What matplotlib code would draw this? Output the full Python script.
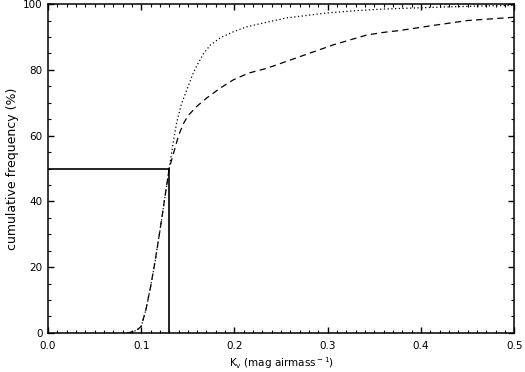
import numpy as np
import matplotlib
matplotlib.use('Agg')
from matplotlib import pyplot as plt
from matplotlib.ticker import MultipleLocator

# cumulative distributions of K_v
kv_low     = [0.085, 0.090, 0.095, 0.100, 0.105, 0.110, 0.115, 0.120, 0.125, 0.130]
cum_low    = [0.0,   0.3,   0.8,   2.0,   7.0,   14.0,  22.0,  31.0,  40.5,  50.0]

kv_dot     = [0.134, 0.138, 0.143, 0.149, 0.155, 0.160, 0.167, 0.174, 0.185, 0.199,
              0.212, 0.227, 0.256, 0.299, 0.330, 0.360, 0.413, 0.460, 0.500]
cum_dot    = [57.5,  64.0,  69.5,  74.0,  78.5,  81.5,  85.0,  87.5,  89.8,  91.6,
              93.0,  94.0,  95.8,  97.3,  98.0,  98.5,  99.0,  99.4,  99.6]

kv_dash    = [0.135, 0.140, 0.145, 0.150, 0.160, 0.170, 0.185, 0.199, 0.215, 0.235,
              0.250, 0.270, 0.290, 0.306, 0.325, 0.342, 0.360, 0.378, 0.413, 0.450, 0.500]
cum_dash   = [55.0,  60.0,  63.5,  66.0,  69.0,  71.4,  74.5,  77.0,  79.0,  80.5,
              82.0,  84.0,  86.0,  87.6,  89.2,  90.6,  91.4,  92.0,  93.5,  95.0,  96.0]

kv_median  = 0.13
cum_median = 50.0

x_dot  = kv_low + kv_dot
y_dot  = cum_low + cum_dot
x_dash = kv_low + kv_dash
y_dash = cum_low + cum_dash

plt.rcParams['font.family'] = ['DejaVu Sans']
plt.rcParams['mathtext.fontset'] = 'dejavusans'

fig = plt.figure(figsize=(5.25, 3.72), dpi=100)
# axes box: x 48..514 px, y 4..333 px
ax  = fig.add_axes([0.0914, 0.105, 0.888, 0.884])

ax.plot(x_dot, y_dot, color='black', lw=0.9, linestyle=(0, (1, 2)))
ax.plot(x_dash, y_dash, color='black', lw=0.9, linestyle=(0, (5, 3.5)))

# median markers
ax.plot([0, kv_median], [cum_median, cum_median], color='black', lw=1.2)
ax.plot([kv_median, kv_median], [0, cum_median], color='black', lw=1.2)

ax.set_xlim(0, 0.5)
ax.set_ylim(0, 100)
ax.xaxis.set_major_locator(MultipleLocator(0.1))
ax.xaxis.set_minor_locator(MultipleLocator(0.01))
ax.yaxis.set_major_locator(MultipleLocator(20))
ax.yaxis.set_minor_locator(MultipleLocator(5))
ax.xaxis.set_major_formatter(plt.FormatStrFormatter('%.1f'))

ax.tick_params(which='both', direction='in', top=True, right=True, labelsize=7.5)
ax.tick_params(axis='x', pad=6)
ax.tick_params(axis='y', pad=4)
ax.tick_params(which='major', length=4.5, width=1)
ax.tick_params(which='minor', length=2.3, width=0.8)
for s in ax.spines.values():
    s.set_linewidth(1.1)

ax.set_xlabel(r'K$_{\rm v}$ (mag airmass$^{\rm -1}$)', fontsize=7.5, labelpad=3)
ax.set_ylabel('cumulative frequency (%)', fontsize=9, labelpad=3)

fig.savefig('out.png', dpi=100)
